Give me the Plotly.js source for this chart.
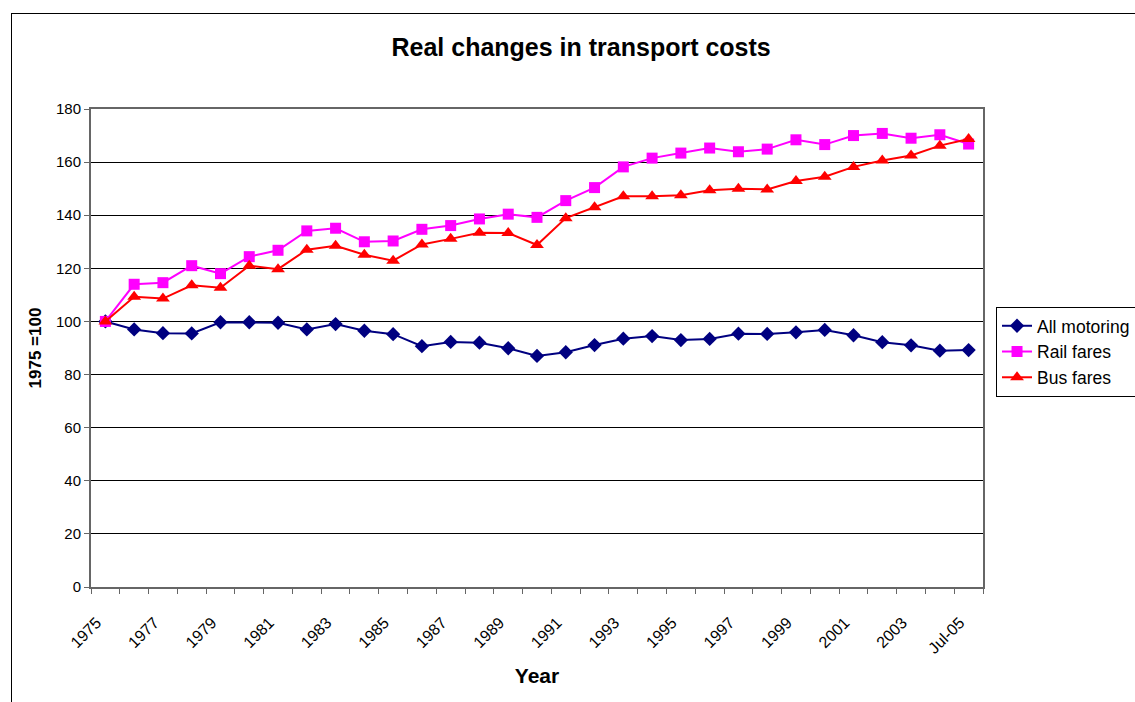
<!DOCTYPE html>
<html>
<head>
<meta charset="utf-8">
<script src="https://cdn.plot.ly/plotly-3.0.1.min.js"></script>
<style>
  html, body { margin: 0; padding: 0; background: #fff; }
  #wrap { position: relative; width: 1135px; height: 702px; overflow: hidden; }
  #chart { width: 1135px; height: 702px; }
  #frame { position: absolute; left: 11px; top: 13px; width: 1200px; height: 800px;
           border-left: 1px solid #000; border-top: 1px solid #000; pointer-events: none; }
</style>
</head>
<body>
<div id="wrap">
  <div id="chart"></div>
  <div id="frame"></div>
</div>
<script>
const categories = ['1975','1976','1977','1978','1979','1980','1981','1982','1983','1984',
  '1985','1986','1987','1988','1989','1990','1991','1992','1993','1994',
  '1995','1996','1997','1998','1999','2000','2001','2002','2003','2004','Jul-05'];

const allMotoring = [100, 97.0, 95.6, 95.5, 99.7, 99.7, 99.5, 97.0, 99.0, 96.5,
  95.2, 90.7, 92.3, 92.0, 89.9, 87.0, 88.4, 91.1, 93.5, 94.5,
  93.0, 93.4, 95.4, 95.3, 95.9, 96.8, 94.8, 92.2, 91.0, 89.0, 89.2];

const railFares = [100, 114.0, 114.6, 121.0, 118.0, 124.4, 126.8, 134.1, 135.1, 130.0,
  130.3, 134.7, 136.1, 138.6, 140.4, 139.2, 145.5, 150.4, 158.2, 161.5,
  163.4, 165.3, 163.9, 164.9, 168.4, 166.6, 170.0, 170.8, 169.0, 170.3, 166.8];

const busFares = [100, 109.3, 108.6, 113.6, 112.7, 121.0, 119.7, 127.0, 128.5, 125.1,
  122.9, 129.0, 131.1, 133.4, 133.3, 128.8, 138.9, 143.0, 147.1, 147.1,
  147.5, 149.4, 150.0, 149.7, 152.9, 154.5, 158.2, 160.6, 162.5, 166.2, 168.7];

const seriesNames = ['All motoring', 'Rail fares', 'Bus fares'];

const FONT = 'Liberation Sans, Arial, sans-serif';
const xIdx = categories.map((c, i) => i);
const tickIdx = xIdx.filter(i => i % 2 === 0);
const tickText = tickIdx.map(i => categories[i]);
// rotated labels sit slightly left of the category centre, as in the original
const labelPos = tickIdx.map(i => i - 0.3);

const traces = [
  { name: seriesNames[0], x: xIdx, y: allMotoring, type: 'scatter', mode: 'lines+markers',
    line: { color: '#000080', width: 2 },
    marker: { symbol: 'diamond', size: 11, color: '#000080' } },
  { name: seriesNames[1], x: xIdx, y: railFares, type: 'scatter', mode: 'lines+markers',
    line: { color: '#FF00FF', width: 2 },
    marker: { symbol: 'square', size: 11, color: '#FF00FF' } },
  { name: seriesNames[2], x: xIdx, y: busFares, type: 'scatter', mode: 'lines+markers',
    line: { color: '#FF0000', width: 2 },
    marker: { symbol: 'triangle-up', size: 12, color: '#FF0000' } }
];

const layout = {
  width: 1135, height: 702,
  paper_bgcolor: '#fff', plot_bgcolor: '#fff',
  font: { family: FONT, color: '#000', size: 15 },
  margin: { l: 91, r: 152, t: 109, b: 115, autoexpand: false },
  title: { text: 'Real changes in transport costs', xref: 'container', x: 0.512,
           yref: 'container', y: 0.932, yanchor: 'middle', xanchor: 'center',
           font: { family: FONT, size: 25, weight: 'bold', color: '#000' } },
  xaxis: {
    range: [-0.5, 30.5], tickmode: 'array', tickvals: labelPos, ticktext: tickText,
    tickangle: -45, ticks: '', ticklabelstandoff: 18,
    tickfont: { family: FONT, size: 16, color: '#000' },
    showgrid: false, zeroline: false,
    showline: true, linecolor: '#666', linewidth: 2, mirror: true,
    minor: { tick0: -0.5, dtick: 1, ticks: 'outside', ticklen: 5, tickcolor: '#666', tickwidth: 1, showgrid: false },
    title: { text: 'Year', standoff: 13, font: { family: FONT, size: 21, weight: 'bold', color: '#000' } }
  },
  yaxis: {
    range: [0, 180], dtick: 20, tick0: 0,
    ticks: 'outside', ticklen: 5, tickcolor: '#666', tickwidth: 1,
    tickfont: { family: FONT, size: 15, color: '#000' },
    showgrid: true, gridcolor: '#000', gridwidth: 1, zeroline: false,
    showline: true, linecolor: '#666', linewidth: 2, mirror: true,
    title: { text: '1975 =100', standoff: 10, font: { family: FONT, size: 17, weight: 'bold', color: '#000' } }
  },
  legend: {
    x: 1.0146, xanchor: 'left', y: 0.586, yanchor: 'top',
    bordercolor: '#000', borderwidth: 1, bgcolor: '#fff',
    font: { family: FONT, size: 17.5, color: '#000' }
  },
  showlegend: true
};

Plotly.newPlot('chart', traces, layout, { displayModeBar: false, staticPlot: true });
</script>
</body>
</html>
